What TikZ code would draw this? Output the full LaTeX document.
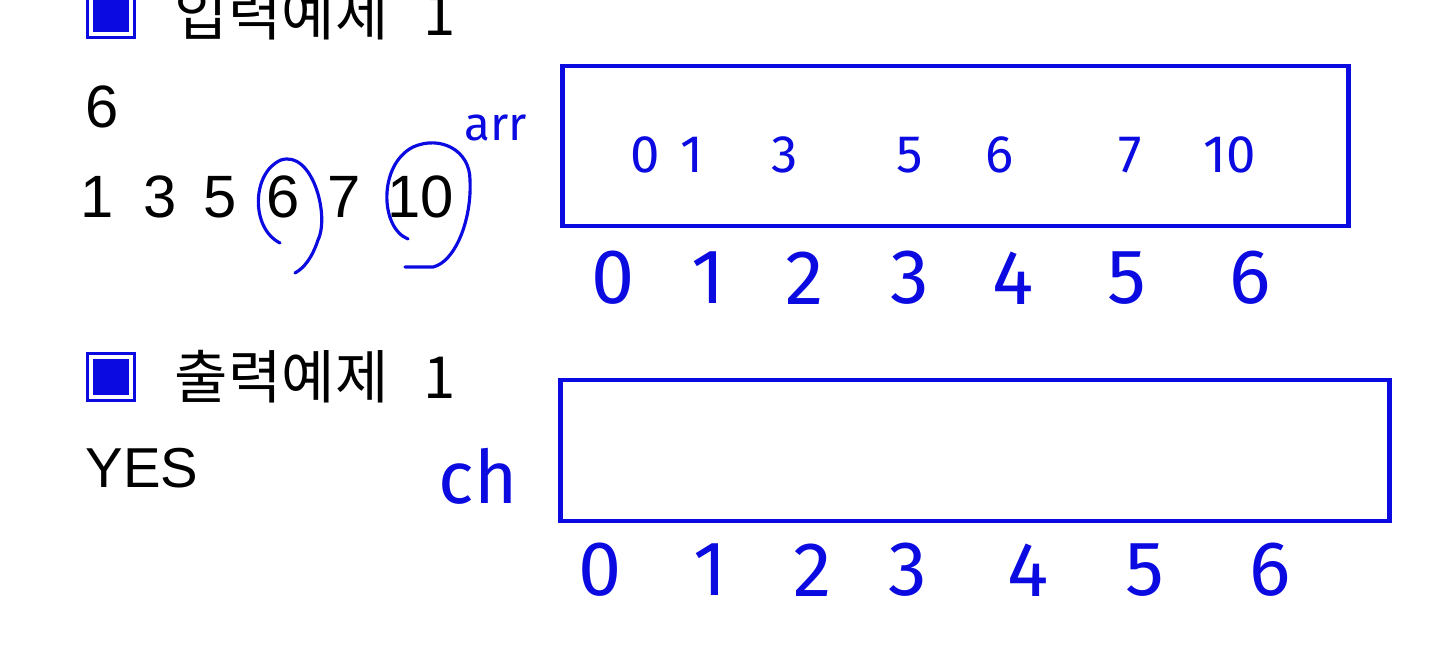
\documentclass[tikz,border=0pt]{standalone}
\usepackage{fontspec}
\setmainfont{Liberation Sans}
\newfontfamily\kofont{Noto Sans CJK KR}
\newfontfamily\handfont{Fira Sans}
\usetikzlibrary{positioning}
\definecolor{penblue}{RGB}{10,10,225}

\begin{document}
\begin{tikzpicture}[x=0.01cm,y=-0.01cm,
  icon/.style={draw=penblue,fill=penblue,line width=0.7pt,double=white,double distance=1.3pt,minimum size=0.4cm,inner sep=0pt},
  title/.style={inner sep=0pt,anchor=west,font=\kofont\fontsize{16.5}{16.5}\selectfont},
  plain/.style={inner sep=0pt,font=\fontsize{17}{17}\selectfont},
  box/.style={draw=penblue,line width=1.3pt,inner sep=0pt},
  hand/.style={text=penblue,inner sep=0pt,font=\handfont\fontsize{22}{22}\selectfont},
  cell/.style={hand,font=\handfont\fontsize{15}{15}\selectfont},
  loop/.style={draw=penblue,line width=0.9pt,line cap=round}]
\useasboundingbox (0,0) rectangle (1440,667);

% input sample
\node (icon1) [icon] at (111,14) {};
\node (title1) [title,right=0.42cm of icon1] {입력예제\hspace{0.6em}1};
\node (count) [plain,anchor=west] at (85,107) {6};
\node (n1) [plain] at (97,197) {1};
\node (n3) [plain] at (160,197) {3};
\node (n5) [plain] at (220,197) {5};
\node (n6) [plain] at (283,197) {6};
\node (n7) [plain] at (344,197) {7};
\node (n10) [plain] at (421,197) {10};
\draw[loop] (280,243) .. controls (250,228) and (252,172) .. (281,160)
  .. controls (312,150) and (330,215) .. (318,240) .. controls (312,258) and (304,268) .. (295,273);
\draw[loop] (408,239) .. controls (380,228) and (378,165) .. (413,147)
  .. controls (440,135) and (470,150) .. (470,180) .. controls (472,220) and (455,262) .. (433,267)
  -- (405,267);
\node (arrlbl) [hand,font=\handfont\fontsize{13.5}{13.5}\selectfont] at (496,128) {arr};

% arr array
\node (arr) [box,minimum width=7.85cm,minimum height=1.6cm] at (955.5,146) {};
\foreach \v/\x [count=\k] in {0/645,1/692,3/785,5/910,6/1000,7/1130,10/1230}
  \node (av\k) [cell] at (\x,155) {\v};
\foreach \i/\x in {0/613,1/708,2/805,3/910,4/1013,5/1127,6/1250}
  \node (ai\i) [hand] at (\x,278) {\i};

% output sample
\node (icon2) [icon] at (111,377) {};
\node (title2) [title,right=0.42cm of icon2] {출력예제\hspace{0.6em}1};
\node (answer) [plain,anchor=west,font=\fontsize{16}{16}\selectfont] at (85,468) {YES};
\node (chlbl) [hand,font=\handfont\fontsize{21}{21}\selectfont] at (478,476) {ch};

% ch array
\node (ch) [box,minimum width=8.28cm,minimum height=1.41cm] at (975,450.5) {};
\foreach \i/\x in {0/600,1/710,2/813,3/908,4/1028,5/1145,6/1270}
  \node (ci\i) [hand] at (\x,570) {\i};
\end{tikzpicture}
\end{document}
